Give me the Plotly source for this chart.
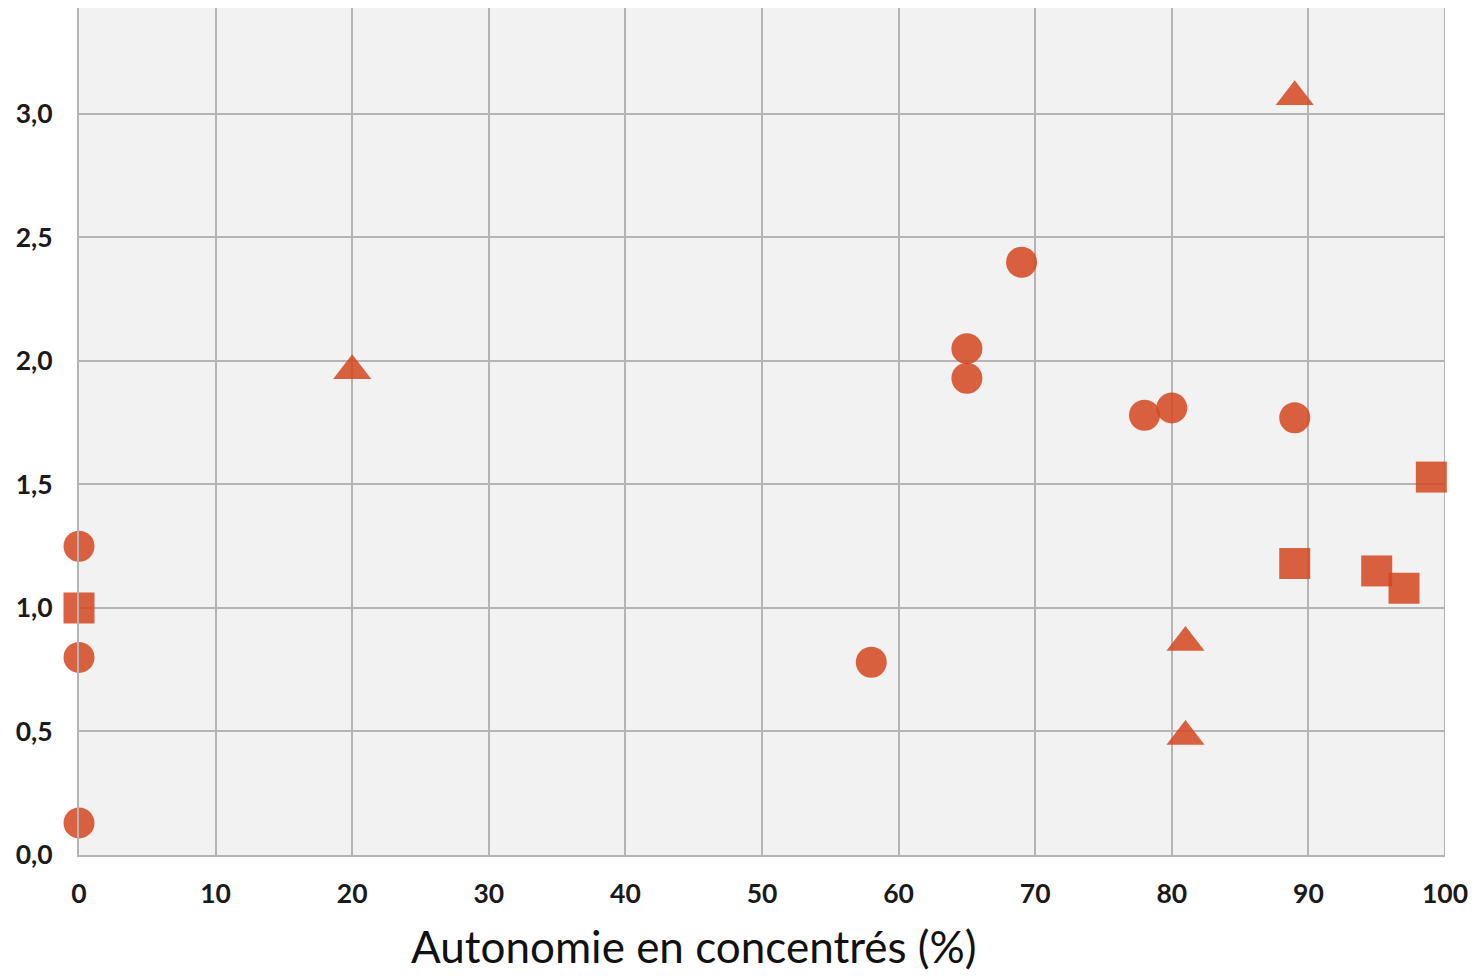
import plotly.graph_objects as go

# Data
circle_x = [0, 0, 0, 58, 65, 65, 69, 78, 80, 89]
circle_y = [1.25, 0.80, 0.13, 0.78, 2.05, 1.93, 2.40, 1.78, 1.81, 1.77]
square_x = [0, 89, 95, 97, 99]
square_y = [1.00, 1.18, 1.15, 1.08, 1.53]
triangle_x = [20, 81, 81, 89]
triangle_y = [1.96, 0.86, 0.48, 3.07]

x_title = "Autonomie en concentrés (%)"
x_ticks = [0, 10, 20, 30, 40, 50, 60, 70, 80, 90, 100]
y_ticks = [0.0, 0.5, 1.0, 1.5, 2.0, 2.5, 3.0]

color = "rgba(212,70,30,0.85)"

fig = go.Figure()
fig.add_trace(go.Scatter(x=circle_x, y=circle_y, mode="markers",
                         marker=dict(symbol="circle", size=31, color=color, line=dict(width=0)),
                         cliponaxis=False, showlegend=False))
fig.add_trace(go.Scatter(x=square_x, y=square_y, mode="markers",
                         marker=dict(symbol="square", size=31, color=color, line=dict(width=0)),
                         cliponaxis=False, showlegend=False))
fig.add_trace(go.Scatter(x=triangle_x, y=triangle_y, mode="markers",
                         marker=dict(symbol="triangle-up", size=33, color=color, line=dict(width=0)),
                         cliponaxis=False, showlegend=False))

grid = "#B4B4B4"
tickfont = dict(family="Lato", size=26.5, color="#1A1A1A", weight="bold")
fig.update_layout(
    width=1468, height=968,
    margin=dict(l=71, r=31, t=0, b=121, autoexpand=False),
    paper_bgcolor="white", plot_bgcolor="#F2F2F2",
    separators=",.",
    font=dict(family="Lato", color="#1A1A1A"),
    xaxis=dict(range=[0, 100], tickvals=x_ticks, showgrid=True, gridcolor=grid, gridwidth=2,
               showline=True, linecolor=grid, linewidth=2, zeroline=False, automargin=False,
               ticks="", ticklabelstandoff=14, tickfont=tickfont),
    yaxis=dict(range=[0, 3.429], tickvals=y_ticks, tickformat=".1f", showgrid=True,
               gridcolor=grid, gridwidth=2, showline=True, linecolor=grid, linewidth=2,
               zeroline=False, automargin=False, ticks="", ticklabelstandoff=19,
               tickfont=tickfont),
    annotations=[dict(text=x_title, xref="paper", yref="paper", x=0.45, y=0,
                      xanchor="center", yanchor="middle", yshift=-91, showarrow=False,
                      font=dict(family="Lato", size=44, color="#111111"))],
)
fig.add_shape(type="line", xref="x", yref="paper", x0=100, x1=100, y0=0, y1=1,
              line=dict(color=grid, width=2), layer="below")

fig.write_html("out.html")
